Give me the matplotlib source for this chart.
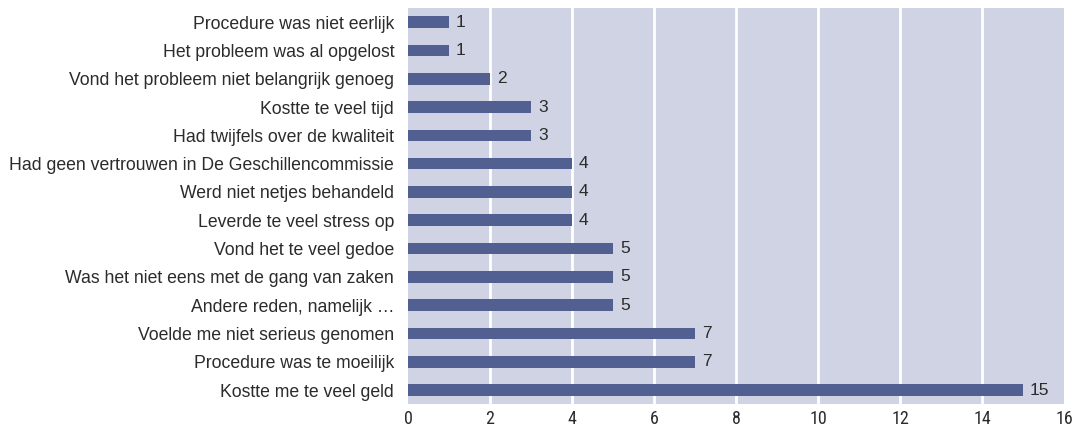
import matplotlib
matplotlib.use("Agg")
from matplotlib import pyplot as plt
from matplotlib import font_manager

reasons = [
    "Procedure was niet eerlijk",
    "Het probleem was al opgelost",
    "Vond het probleem niet belangrijk genoeg",
    "Kostte te veel tijd",
    "Had twijfels over de kwaliteit",
    "Had geen vertrouwen in De Geschillencommissie",
    "Werd niet netjes behandeld",
    "Leverde te veel stress op",
    "Vond het te veel gedoe",
    "Was het niet eens met de gang van zaken",
    "Andere reden, namelijk \u2026",
    "Voelde me niet serieus genomen",
    "Procedure was te moeilijk",
    "Kostte me te veel geld",
]
counts = [1, 1, 2, 3, 3, 4, 4, 4, 5, 5, 5, 7, 7, 15]
x_ticks = [0, 2, 4, 6, 8, 10, 12, 14, 16]

bar_color = "#515f91"
bg_color = "#d0d3e3"
text_color = "#2b2b2b"
label_font = "Liberation Sans"

# condensed face for the axis numbers, if one is around
names = {f.name for f in font_manager.fontManager.ttflist}
tick_kw = {"family": "DejaVu Sans", "stretch": "condensed"}
for cand in ["Roboto Condensed", "Liberation Sans Narrow", "Open Sans Condensed"]:
    if cand in names:
        tick_kw = {"family": cand}
        break

fig = plt.figure(figsize=(10.84, 4.3), dpi=100)
ax = fig.add_axes([0.3764, 0.0598, 0.6052, 0.9216])
ax.set_facecolor(bg_color)

ys = list(range(len(reasons)))
ax.barh(ys, counts, height=0.41, color=bar_color, zorder=3)
for y, c in zip(ys, counts):
    ax.text(c + 0.17, y, str(c), va="center", ha="left",
            fontsize=12.5, family=label_font, color=text_color)

ax.set_ylim(len(reasons) - 0.5, -0.5)
ax.set_xlim(0, 16)
ax.set_yticks(ys)
ax.set_yticklabels(reasons, fontsize=12.7, family=label_font, color=text_color)
ax.set_xticks(x_ticks)
ax.set_xticklabels([str(t) for t in x_ticks], fontsize=13, color=text_color,
                   **tick_kw)
ax.tick_params(length=0)
ax.tick_params(axis="y", pad=10)
ax.tick_params(axis="x", pad=4)

for t in x_ticks[1:-1]:
    ax.axvline(t, color="white", linewidth=2, zorder=2)
for s in ax.spines.values():
    s.set_visible(False)

fig.savefig("out.png", dpi=100)
